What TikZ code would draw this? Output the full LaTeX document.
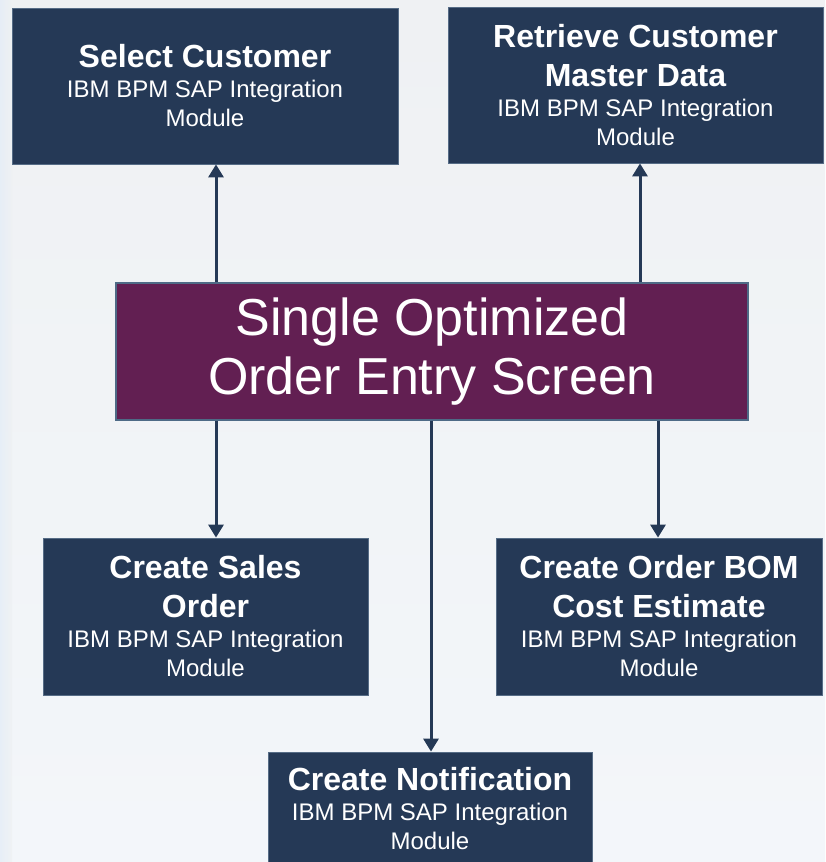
\documentclass[tikz,border=0pt]{standalone}
\usepackage{fontspec}
\setmainfont{Liberation Sans}
\usetikzlibrary{arrows.meta}
\definecolor{navy}{HTML}{253956}
\definecolor{plum}{HTML}{621F52}
\definecolor{navyedge}{HTML}{566C86}
\definecolor{plumedge}{HTML}{4E6A86}
\definecolor{bgtop}{HTML}{EFF1F3}
\definecolor{bgbot}{HTML}{F3F6FA}
\definecolor{bgleft}{HTML}{E4EDF7}
\newcommand{\ttl}{\fontsize{32}{29}\selectfont\bfseries}
\newcommand{\sub}{\fontsize{24}{29}\selectfont\mdseries}
\tikzset{
  box/.style={draw=navyedge, line width=0.8pt, fill=navy, text=white, align=center, inner sep=0pt,
    font=\fontsize{24}{29}\selectfont},
  mainbox/.style={draw=plumedge, line width=1.2pt, fill=plum, text=white, align=center, inner sep=0pt,
    font=\fontsize{52}{59}\selectfont},
  arr/.style={draw=navy, line width=3pt, -{Triangle[width=15pt,length=13pt]}}
}
\begin{document}
\begin{tikzpicture}[x=1pt,y=-1pt]
\useasboundingbox (0,0) rectangle (825,862);
\shade[top color=bgtop, bottom color=bgbot] (0,0) rectangle (825,862);
\shade[left color=bgleft, right color=bgtop, opacity=0.8] (0,0) rectangle (12,862);

\node[box, minimum width=386pt, minimum height=156pt] (sel) at (205,86)
  {\ttl Select Customer\\[1pt] \sub IBM BPM SAP Integration\\ \sub Module};
\node[box, minimum width=375pt, minimum height=156pt] (ret) at (635.5,85)
  {\ttl Retrieve Customer\\[10pt] \ttl Master Data\\[1pt] \sub IBM BPM SAP Integration\\ \sub Module};
\node[mainbox, minimum width=632pt, minimum height=137pt] (main) at (432,351.5)
  {Single Optimized\\ Order Entry Screen};
\node[box, minimum width=325pt, minimum height=157pt] (sales) at (205.5,616.5)
  {\ttl Create Sales\\[10pt] \ttl Order\\[1pt] \sub IBM BPM SAP Integration\\ \sub Module};
\node[box, minimum width=326pt, minimum height=157pt] (bom) at (659,616.5)
  {\ttl Create Order BOM\\[10pt] \ttl Cost Estimate\\[1pt] \sub IBM BPM SAP Integration\\ \sub Module};
\node[box, minimum width=324pt, minimum height=114pt] (notif) at (430,809)
  {\ttl Create Notification\\[1pt] \sub IBM BPM SAP Integration\\ \sub Module};

\coordinate (xa) at (216,0);
\coordinate (xb) at (640,0);
\coordinate (xc) at (216,0);
\coordinate (xd) at (431,0);
\coordinate (xe) at (658,0);

\draw[arr] (main.north -| xa) -- (sel.south -| xa);
\draw[arr] (main.north -| xb) -- (ret.south -| xb);
\draw[arr] (main.south -| xc) -- (sales.north -| xc);
\draw[arr] (main.south -| xd) -- (notif.north -| xd);
\draw[arr] (main.south -| xe) -- (bom.north -| xe);
\end{tikzpicture}
\end{document}
